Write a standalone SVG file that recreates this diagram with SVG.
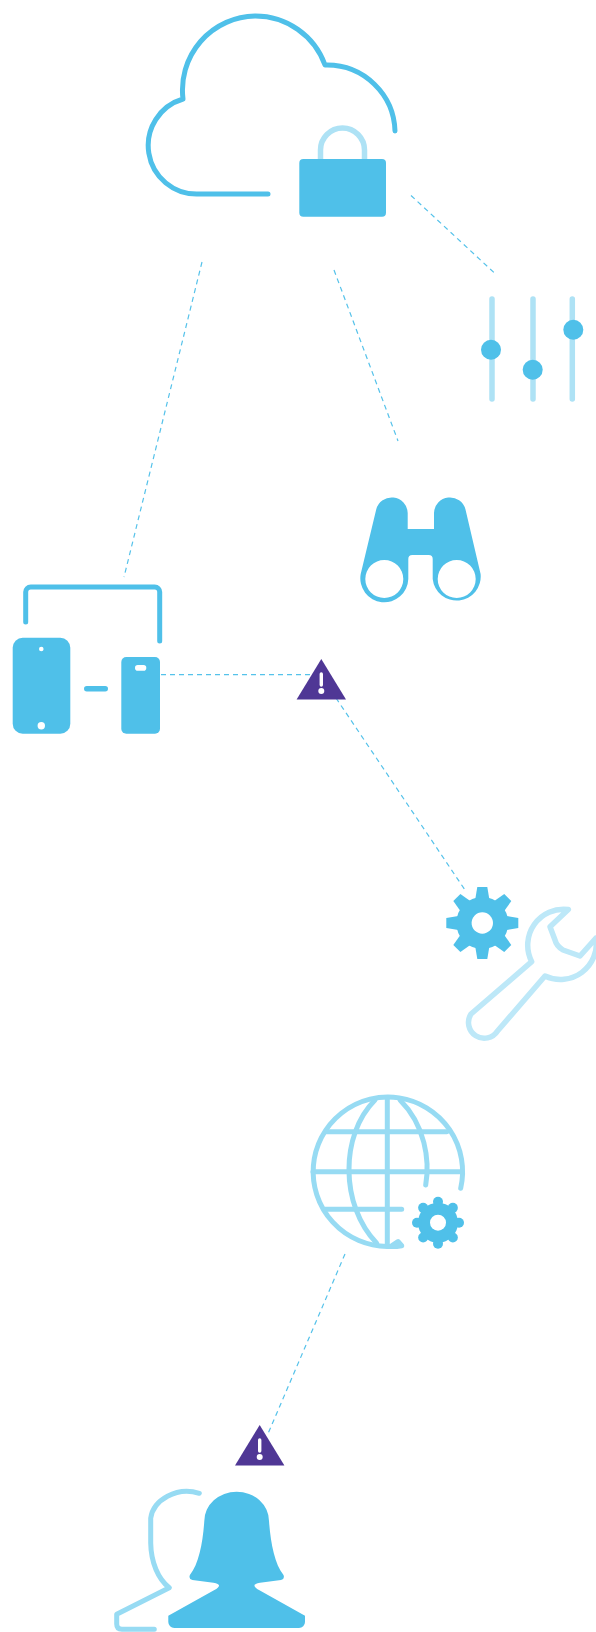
<svg xmlns="http://www.w3.org/2000/svg" width="596" height="1632" viewBox="0 0 596 1632">
<style>
.f{fill:#4fc0e9}
.w{fill:#fff}
.s{fill:none;stroke:#4fc0e9;stroke-width:5;stroke-linecap:round;stroke-linejoin:round}
.l{fill:none;stroke:#aee2f5;stroke-width:5.5;stroke-linecap:round;stroke-linejoin:round}
.g{fill:none;stroke:#97dbf3;stroke-width:5;stroke-linecap:round;stroke-linejoin:round}
.d{fill:none;stroke:#55c2ea;stroke-width:1.200;stroke-dasharray:5 4}
.t{fill:#4f3795}
</style>
<defs>
<g id="warn">
<path class="t" d="M321.3 659L346 699.500H296.600Z"/>
<path class="w" d="M319.600 674a1.700 1.700 0 0 1 3.400 0V685a1.700 1.700 0 0 1-3.400 0Z"/>
<circle class="w" cx="321.300" cy="691" r="3"/>
</g>
<path id="tooth" class="f" d="M-7 -24L-5 -36H5L7 -24Z"/>
</defs>
<rect width="596" height="1632" fill="#fff"/>
<g id="connectors">
<path class="d" d="M411 195.500L495 273.500"/>
<path class="d" d="M334 270L398 441"/>
<path class="d" d="M202 262L124 577"/>
<path class="d" d="M161 674.700H312"/>
<path class="d" d="M336 698L465 890"/>
<path class="d" d="M345 1254L267 1436"/>
</g>
<g id="cloud-lock">
<path class="s" d="M268 194H198A48.500 48.500 0 0 1 183 99A74 74 0 0 1 255 16A74 74 0 0 1 325 65H327A68 68 0 0 1 395 131"/>
<path class="l" d="M320.500 159V150A22 22 0 0 1 364.500 150V159" stroke-linecap="butt"/>
<rect class="f" x="299.300" y="159" width="86.700" height="57.700" rx="4"/>
</g>
<g id="sliders">
<path class="l" stroke-width="6" d="M492 299V399M533 299V399M572.300 299V399"/>
<circle class="f" cx="491" cy="349.700" r="10"/>
<circle class="f" cx="532.700" cy="369.700" r="10"/>
<circle class="f" cx="573.300" cy="329.700" r="10"/>
</g>
<g id="binoculars">
<path class="f" fill-rule="evenodd" d="M360.700 574L376.200 509.500A16 16 0 0 1 407.700 513V529H434V513A16 16 0 0 1 465.500 509.500L480.600 574A24 24 0 1 1 432.700 579V559A4 4 0 0 0 428.700 555H412.300A4 4 0 0 0 408.300 559V579A24 24 0 1 1 360.700 574ZM403.300 579A19 19 0 1 0 365.300 579A19 19 0 1 0 403.300 579ZM475.700 579A19 19 0 1 0 437.700 579A19 19 0 1 0 475.700 579Z"/>
</g>
<g id="devices">
<path class="s" d="M25.700 622V592A5 5 0 0 1 30.700 587H154.700A5 5 0 0 1 159.700 592V641"/>
<rect class="f" x="12.700" y="637.700" width="57.600" height="96" rx="10"/>
<circle class="w" cx="41.300" cy="649" r="2.300"/>
<circle class="w" cx="41.300" cy="725.700" r="3.700"/>
<rect class="f" x="84" y="686" width="24" height="5.500" rx="2.750"/>
<rect class="f" x="121.300" y="657" width="38.700" height="76.700" rx="5"/>
<rect class="w" x="135" y="665" width="11.300" height="5.700" rx="2.800"/>
</g>
<g id="warning-1"><use href="#warn"/></g>
<g id="gear-wrench">
<path fill="none" stroke="#bde8f8" stroke-width="5.500" stroke-linejoin="round" stroke-linecap="round" d="M568.300 909.500A36 36 0 0 0 531.700 961.700L471 1014A15.500 15.500 0 0 0 497.500 1031L545 976A36 36 0 0 0 596 938L580 956L563 950Q556.500 946 555 940L550 926.700Z"/>
<g transform="translate(482.300 923)">
<use href="#tooth"/><use href="#tooth" transform="rotate(45)"/><use href="#tooth" transform="rotate(90)"/><use href="#tooth" transform="rotate(135)"/><use href="#tooth" transform="rotate(180)"/><use href="#tooth" transform="rotate(225)"/><use href="#tooth" transform="rotate(270)"/><use href="#tooth" transform="rotate(315)"/>
<circle class="f" r="26"/>
<circle class="w" r="10.700"/>
</g>
</g>
<g id="globe-gear">
<path class="g" d="M460.700 1188.300A74.700 74.700 0 1 0 387.300 1246.400Q395 1247 401.700 1245.700L398 1241.500L392 1245.500"/>
<path class="g" d="M326.700 1131.700H446.700M313 1171.700H461M325 1209.300H401.700M387.300 1098V1246"/>
<path class="g" d="M375 1100C340 1135 340 1205 376.700 1243.300"/>
<path class="g" d="M400 1100C425 1125 430 1160 425.700 1185"/>
<g transform="translate(438 1222.700)">
<g class="f">
<circle r="20"/>
<circle cy="-21" r="5"/><circle cy="21" r="5"/><circle cx="-21" r="5"/><circle cx="21" r="5"/>
<circle cx="14.850" cy="-14.850" r="5"/><circle cx="14.850" cy="14.850" r="5"/><circle cx="-14.850" cy="14.850" r="5"/><circle cx="-14.850" cy="-14.850" r="5"/>
</g>
<circle class="w" r="8"/>
</g>
</g>
<g id="warning-2"><use href="#warn" transform="translate(-61.600 766)"/></g>
<g id="users">
<path class="g" d="M199.300 1493.300C177 1486 153 1500 150.700 1518.300V1543C151 1562 158 1579 169.300 1587.700L116.700 1614.300V1624Q116.700 1629.300 122 1629.300H154.300"/>
<path class="f" d="M204.300 1521A32.350 29.300 0 0 1 269 1521C270.500 1542 274.500 1564 283.500 1575Q285 1579 281 1580L260 1582.700Q252 1584 255.500 1587.500Q257 1589 259 1590L305 1615.700V1622A6 6 0 0 1 299 1628H174.300A6 6 0 0 1 168.300 1622V1615.700L214.400 1590Q216.400 1589 218 1587.500Q221.400 1584 213.400 1582.700L192.400 1580Q188.400 1579 189.900 1575C198.900 1564 202.900 1542 204.300 1521Z"/>
</g>
</svg>
